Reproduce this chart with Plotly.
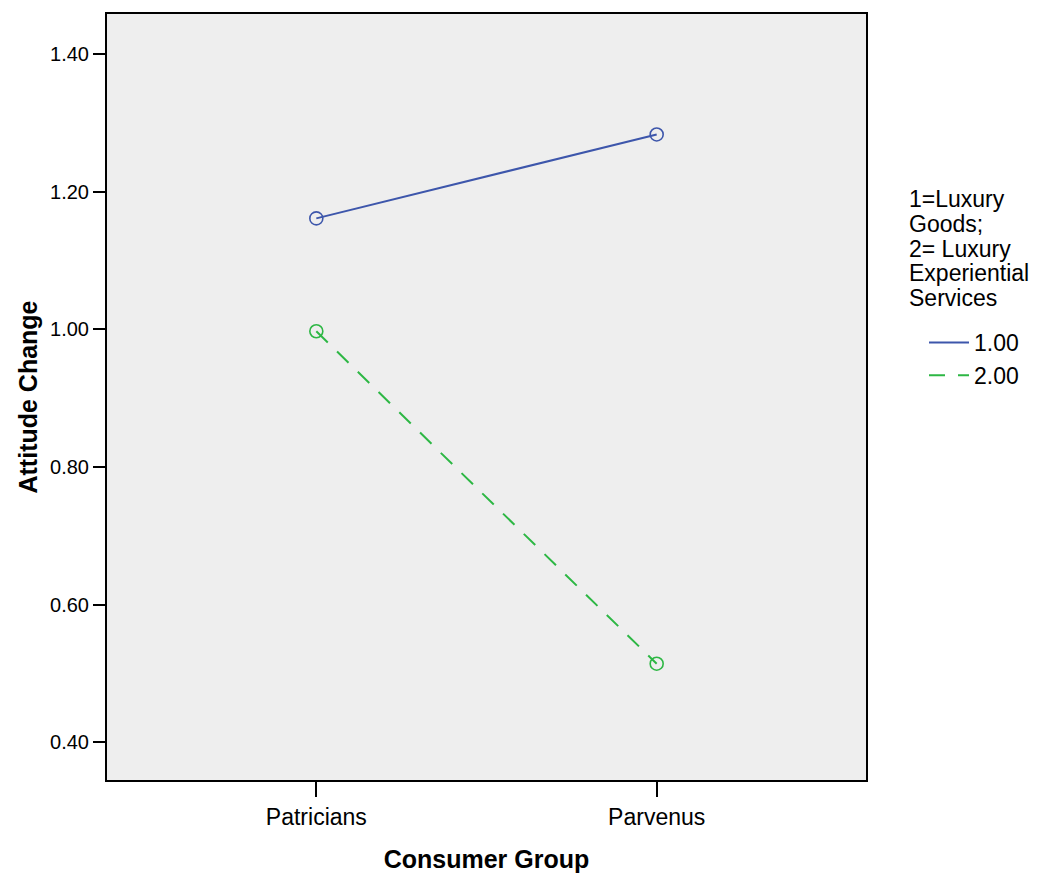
import plotly.graph_objects as go

categories = ["Patricians", "Parvenus"]
series_names = ["1.00", "2.00"]
luxury_goods = [1.161, 1.283]
luxury_services = [0.997, 0.514]
y_ticks = [0.40, 0.60, 0.80, 1.00, 1.20, 1.40]
legend_title_lines = ["1=Luxury", "Goods;", "2= Luxury", "Experiential", "Services"]

FONT = "Liberation Sans, Arial, sans-serif"
BLUE = "#3D56AB"
GREEN = "#2DB744"

# page body adds an 8px margin, so the figure is drawn 8px smaller/shifted
OFF = 8
PLOT_L, PLOT_R, PLOT_T, PLOT_B = 107, 866, 14, 780  # target page pixels
PW, PH = PLOT_R - PLOT_L, PLOT_B - PLOT_T

def px_x(x):
    return (x - PLOT_L) / PW

def px_y(y):
    return (PLOT_B - y) / PH

fig = go.Figure()
series = [(luxury_goods, series_names[0], BLUE, "solid"),
          (luxury_services, series_names[1], GREEN, "16px,13px")]
for i, (vals, name, col, dash) in enumerate(series):
    fig.add_trace(go.Scatter(
        x=categories, y=vals, name=name, mode="lines", legendgroup=f"g{i}",
        line=dict(color=col, width=2, dash=dash),
    ))
    fig.add_trace(go.Scatter(
        x=categories, y=vals, name=name, mode="markers", showlegend=False,
        legendgroup=f"g{i}",
        marker=dict(symbol="circle-open", size=13, color=col, line=dict(width=1.6)),
    ))

title_y_px = [198.5, 224, 248.5, 273, 297.5]
for txt, ypx in zip(legend_title_lines, title_y_px):
    fig.add_annotation(
        text=txt, xref="paper", yref="paper",
        x=px_x(907), y=px_y(ypx),
        xanchor="left", yanchor="middle", showarrow=False,
        font=dict(size=23, family=FONT, color="black"),
    )

fig.update_layout(
    width=1040 - OFF, height=873 - OFF,
    margin=dict(l=PLOT_L - OFF, r=1040 - PLOT_R, t=PLOT_T - OFF, b=873 - PLOT_B,
                autoexpand=False),
    paper_bgcolor="white", plot_bgcolor="#EEEEEE",
    font=dict(family=FONT, size=20, color="black"),
    legend=dict(
        x=px_x(924), y=px_y(321), xanchor="left", yanchor="top",
        font=dict(size=23, family=FONT), bgcolor="rgba(0,0,0,0)",
        itemwidth=40, traceorder="grouped", tracegroupgap=0,
    ),
    xaxis=dict(
        type="category", range=[-0.615, 1.615],
        showgrid=False, zeroline=False,
        showline=True, linecolor="black", linewidth=2, mirror=True,
        ticks="outside", ticklen=15, tickwidth=2, tickcolor="black",
        tickfont=dict(size=23, family=FONT),
        title=dict(text="<b>Consumer Group</b>", font=dict(size=25, family=FONT), standoff=22),
    ),
    yaxis=dict(
        range=[0.345, 1.458], tickvals=y_ticks,
        ticktext=[f"{v:.2f}" for v in y_ticks],
        showgrid=False, zeroline=False,
        showline=True, linecolor="black", linewidth=2, mirror=True,
        ticks="outside", ticklen=12, tickwidth=2, tickcolor="black",
        tickfont=dict(size=20, family=FONT),
        title=dict(text="<b>Attitude Change</b>", font=dict(size=25, family=FONT), standoff=5),
    ),
    showlegend=True,
)

fig.write_html("out.html")
